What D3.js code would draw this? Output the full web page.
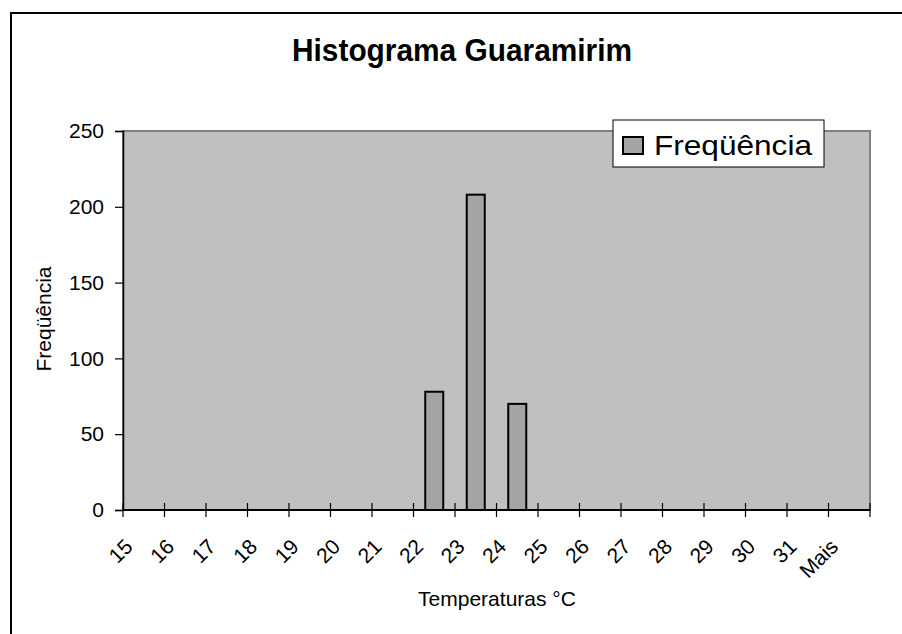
<!DOCTYPE html>
<html>
<head>
<meta charset="utf-8">
<script src="https://cdn.jsdelivr.net/npm/d3@7"></script>
<style>
  body { margin: 0; background: #fff; }
  svg { display: block; font-family: "Liberation Sans", Arial, sans-serif; }
</style>
</head>
<body>
<div id="chart"></div>
<script>
// Dados do histograma
const categorias = ["15", "16", "17", "18", "19", "20", "21", "22", "23", "24", "25", "26", "27", "28", "29", "30", "31", "Mais"];
const frequencias = [0, 0, 0, 0, 0, 0, 0, 78, 208, 70, 0, 0, 0, 0, 0, 0, 0, 0];
const yTicks = [0, 50, 100, 150, 200, 250];

const width = 902, height = 634;
const plot = { left: 123, top: 131, right: 870, bottom: 510 };

const svg = d3.select("#chart").append("svg")
    .attr("width", width)
    .attr("height", height);

// Borda externa do gráfico
svg.append("rect")
    .attr("x", 11).attr("y", 13)
    .attr("width", 1000).attr("height", 1000)
    .attr("fill", "#fff")
    .attr("stroke", "#000")
    .attr("stroke-width", 2);

// Escalas
const x = d3.scaleBand()
    .domain(categorias)
    .range([plot.left, plot.right])
    .paddingInner(0.566)
    .paddingOuter(0.283);

const y = d3.scaleLinear()
    .domain([0, 250])
    .range([plot.bottom, plot.top]);

// Área de plotagem
svg.append("rect")
    .attr("x", plot.left).attr("y", plot.top)
    .attr("width", plot.right - plot.left)
    .attr("height", plot.bottom - plot.top)
    .attr("fill", "#c0c0c0")
    .attr("stroke", "#808080")
    .attr("stroke-width", 2);

// Barras
svg.selectAll(".bar")
    .data(categorias.map((c, i) => ({ cat: c, value: frequencias[i] })).filter(d => d.value > 0))
    .join("rect")
    .attr("class", "bar")
    .attr("x", d => x(d.cat))
    .attr("y", d => y(d.value))
    .attr("width", x.bandwidth())
    .attr("height", d => y(0) - y(d.value))
    .attr("fill", "#a4a4a4")
    .attr("stroke", "#000")
    .attr("stroke-width", 2);

// Eixo Y
const yAxis = svg.append("g")
    .attr("transform", `translate(${plot.left},0)`)
    .call(d3.axisLeft(y).tickValues(yTicks).tickSize(8).tickPadding(11));
yAxis.select(".domain").attr("stroke", "#000").attr("stroke-width", 1.5);
yAxis.selectAll(".tick line").attr("stroke", "#000").attr("stroke-width", 1.2);
yAxis.selectAll("text")
    .attr("fill", "#000")
    .style("font-size", "21px");

// Eixo X: marcas nas divisões entre categorias
const step = x.step();
const divisoes = d3.range(categorias.length + 1).map(i => plot.left + i * step);

svg.append("line")
    .attr("x1", plot.left).attr("x2", plot.right)
    .attr("y1", plot.bottom).attr("y2", plot.bottom)
    .attr("stroke", "#000")
    .attr("stroke-width", 2);

svg.selectAll(".xtick")
    .data(divisoes)
    .join("line")
    .attr("class", "xtick")
    .attr("x1", d => d).attr("x2", d => d)
    .attr("y1", plot.bottom - 7).attr("y2", plot.bottom + 7)
    .attr("stroke", "#000")
    .attr("stroke-width", 1.2);

svg.selectAll(".xlabel")
    .data(categorias)
    .join("text")
    .attr("class", "xlabel")
    .attr("transform", (d, i) => `translate(${x(d) - x.step() * x.paddingOuter() + 11},${plot.bottom + 38}) rotate(-45)`)
    .attr("text-anchor", "end")
    .attr("fill", "#000")
    .style("font-size", "21px")
    .text(d => d);

// Títulos
svg.append("text")
    .attr("x", 462).attr("y", 61)
    .attr("text-anchor", "middle")
    .attr("textLength", 340)
    .attr("lengthAdjust", "spacingAndGlyphs")
    .style("font-size", "31px")
    .style("font-weight", "bold")
    .text("Histograma Guaramirim");

svg.append("text")
    .attr("transform", "translate(51,319) rotate(-90)")
    .attr("text-anchor", "middle")
    .style("font-size", "21px")
    .text("Freqüência");

svg.append("text")
    .attr("x", 497).attr("y", 606)
    .attr("text-anchor", "middle")
    .style("font-size", "21px")
    .text("Temperaturas °C");

// Legenda
const legenda = svg.append("g").attr("transform", "translate(613,120)");
legenda.append("rect")
    .attr("width", 211).attr("height", 47)
    .attr("fill", "#fff")
    .attr("stroke", "#000")
    .attr("stroke-width", 1);
legenda.append("rect")
    .attr("x", 10).attr("y", 17)
    .attr("width", 20).attr("height", 17)
    .attr("fill", "#a4a4a4")
    .attr("stroke", "#000")
    .attr("stroke-width", 2);
legenda.append("text")
    .attr("x", 41).attr("y", 35)
    .attr("textLength", 158)
    .attr("lengthAdjust", "spacingAndGlyphs")
    .style("font-size", "28px")
    .text("Freqüência");
</script>
</body>
</html>
